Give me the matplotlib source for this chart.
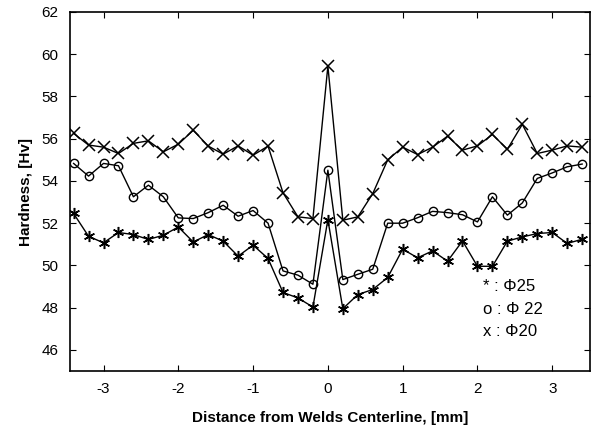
import matplotlib
matplotlib.use("Agg")
import matplotlib.pyplot as plt
import numpy as np

plt.rcParams['font.family'] = ['Liberation Sans', 'DejaVu Sans']
plt.rcParams['axes.unicode_minus'] = False

x_pos = [-3.4, -3.2, -3.0, -2.8, -2.6, -2.4, -2.2, -2.0, -1.8, -1.6, -1.4, -1.2,
         -1.0, -0.8, -0.6, -0.4, -0.2, 0.0, 0.2, 0.4, 0.6, 0.8, 1.0, 1.2, 1.4,
         1.6, 1.8, 2.0, 2.2, 2.4, 2.6, 2.8, 3.0, 3.2, 3.4]

phi20 = [56.25, 55.7, 55.6, 55.3, 55.78, 55.9, 55.38, 55.74, 56.4, 55.65, 55.27, 55.66,
         55.22, 55.65, 53.44, 52.3, 52.22, 59.44, 52.14, 52.3, 53.4, 55.0, 55.6, 55.25,
         55.6, 56.12, 55.46, 55.66, 56.2, 55.5, 56.68, 55.3, 55.46, 55.66, 55.6]

phi22 = [54.83, 54.23, 54.83, 54.72, 53.25, 53.8, 53.25, 52.25, 52.22, 52.5, 52.85, 52.33,
         52.6, 52.0, 49.74, 49.54, 49.11, 54.51, 49.33, 49.58, 49.82, 52.0, 52.0, 52.26,
         52.56, 52.5, 52.4, 52.06, 53.25, 52.38, 52.96, 54.12, 54.38, 54.67, 54.8]

phi25 = [52.46, 51.38, 51.07, 51.56, 51.46, 51.23, 51.43, 51.82, 51.11, 51.46, 51.15, 50.44,
         50.96, 50.33, 48.72, 48.46, 48.03, 52.17, 47.95, 48.62, 48.86, 49.43, 50.77, 50.36,
         50.69, 50.2, 51.16, 49.96, 49.96, 51.15, 51.35, 51.51, 51.56, 51.04, 51.24]

legend_lines = ["* : \u03a625", "o : \u03a6 22", "x : \u03a620"]

fig = plt.figure(figsize=(5.92, 4.36), dpi=100)
ax = fig.add_axes([0.118, 0.149, 0.878, 0.8235])

ax.plot(x_pos, phi20, color='black', lw=1.0, marker='x', ms=8, mew=1.1)
ax.plot(x_pos, phi22, color='black', lw=1.0, marker='o', ms=6, mfc='none', mew=1.0)
ax.plot(x_pos, phi25, color='black', lw=1.0, marker=(6, 2, 0), ms=8, mew=1.1)

ax.set_xlim(-3.45, 3.5)
ax.set_ylim(45, 62)
ax.set_xticks([-3, -2, -1, 0, 1, 2, 3])
ax.set_yticks([46, 48, 50, 52, 54, 56, 58, 60, 62])
ax.tick_params(direction='in', top=True, right=True, length=4, labelsize=11, pad=8)
for s in ax.spines.values():
    s.set_linewidth(1.2)

ax.set_xlabel("Distance from Welds Centerline, [mm]", fontsize=11, fontweight='bold', labelpad=11)
ax.set_ylabel("Hardness, [Hv]", fontsize=11, fontweight='bold', labelpad=6)

for i, t in enumerate(legend_lines):
    ax.text(0.795, 0.235 - i * 0.063, t, transform=ax.transAxes, fontsize=12,
            ha='left', va='center')

fig.savefig("out.png", dpi=100)
